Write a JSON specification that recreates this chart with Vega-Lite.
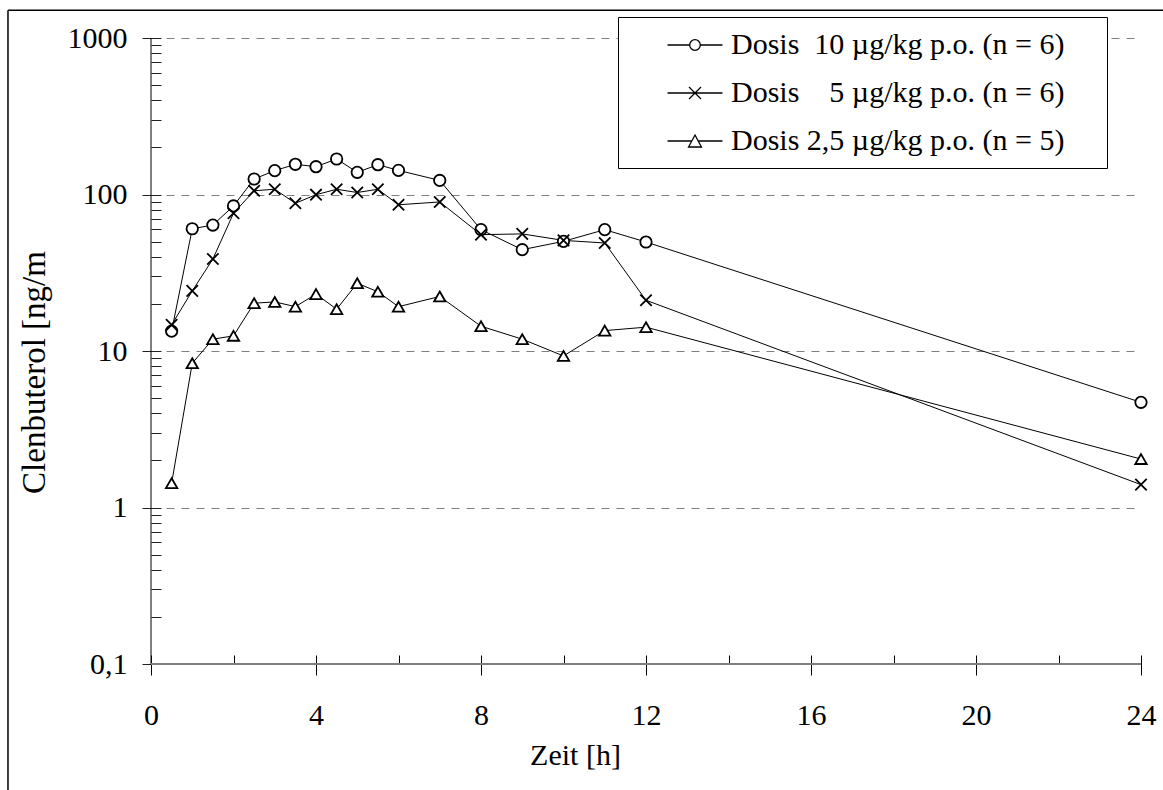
{
  "$schema": "https://vega.github.io/schema/vega-lite/v6.json",
  "width": 990,
  "height": 626,
  "autosize": {"type": "none"},
  "padding": {"left": 151, "top": 38, "right": 22, "bottom": 126},
  "background": "white",
  "config": {"view": {"stroke": null}, "font": "Liberation Serif"},
  "data": {
    "values": [
      {"t": 0.5, "c": 13.4, "s": "d10"},
      {"t": 1, "c": 60.4, "s": "d10"},
      {"t": 1.5, "c": 63.8, "s": "d10"},
      {"t": 2, "c": 84.5, "s": "d10"},
      {"t": 2.5, "c": 125.6, "s": "d10"},
      {"t": 3, "c": 142, "s": "d10"},
      {"t": 3.5, "c": 156, "s": "d10"},
      {"t": 4, "c": 150.5, "s": "d10"},
      {"t": 4.5, "c": 168.6, "s": "d10"},
      {"t": 5, "c": 138.6, "s": "d10"},
      {"t": 5.5, "c": 155, "s": "d10"},
      {"t": 6, "c": 142.6, "s": "d10"},
      {"t": 7, "c": 123, "s": "d10"},
      {"t": 8, "c": 59.6, "s": "d10"},
      {"t": 9, "c": 44.4, "s": "d10"},
      {"t": 10, "c": 50.2, "s": "d10"},
      {"t": 11, "c": 59.6, "s": "d10"},
      {"t": 12, "c": 49.7, "s": "d10"},
      {"t": 24, "c": 4.7, "s": "d10"},
      {"t": 0.5, "c": 14.7, "s": "d5"},
      {"t": 1, "c": 24.2, "s": "d5"},
      {"t": 1.5, "c": 38.7, "s": "d5"},
      {"t": 2, "c": 75.9, "s": "d5"},
      {"t": 2.5, "c": 105.7, "s": "d5"},
      {"t": 3, "c": 108, "s": "d5"},
      {"t": 3.5, "c": 87.9, "s": "d5"},
      {"t": 4, "c": 99.7, "s": "d5"},
      {"t": 4.5, "c": 108, "s": "d5"},
      {"t": 5, "c": 103, "s": "d5"},
      {"t": 5.5, "c": 108, "s": "d5"},
      {"t": 6, "c": 86, "s": "d5"},
      {"t": 7, "c": 89.6, "s": "d5"},
      {"t": 8, "c": 55.4, "s": "d5"},
      {"t": 9, "c": 56, "s": "d5"},
      {"t": 10, "c": 50.9, "s": "d5"},
      {"t": 11, "c": 49, "s": "d5"},
      {"t": 12, "c": 21.1, "s": "d5"},
      {"t": 24, "c": 1.4, "s": "d5"},
      {"t": 0.5, "c": 1.43, "s": "d2.5"},
      {"t": 1, "c": 8.35, "s": "d2.5"},
      {"t": 1.5, "c": 11.9, "s": "d2.5"},
      {"t": 2, "c": 12.5, "s": "d2.5"},
      {"t": 2.5, "c": 20.2, "s": "d2.5"},
      {"t": 3, "c": 20.6, "s": "d2.5"},
      {"t": 3.5, "c": 19.2, "s": "d2.5"},
      {"t": 4, "c": 23.1, "s": "d2.5"},
      {"t": 4.5, "c": 18.5, "s": "d2.5"},
      {"t": 5, "c": 27.1, "s": "d2.5"},
      {"t": 5.5, "c": 23.9, "s": "d2.5"},
      {"t": 6, "c": 19.2, "s": "d2.5"},
      {"t": 7, "c": 22.3, "s": "d2.5"},
      {"t": 8, "c": 14.4, "s": "d2.5"},
      {"t": 9, "c": 11.9, "s": "d2.5"},
      {"t": 10, "c": 9.3, "s": "d2.5"},
      {"t": 11, "c": 13.5, "s": "d2.5"},
      {"t": 12, "c": 14.2, "s": "d2.5"},
      {"t": 24, "c": 2.04, "s": "d2.5"}
    ]
  },
  "layer": [
    {
      "mark": {"type": "line", "color": "black", "strokeWidth": 1},
      "encoding": {
        "x": {
          "field": "t", "type": "quantitative",
          "scale": {"domain": [0, 24], "nice": false, "zero": false},
          "axis": {
            "orient": "bottom", "offset": -9,
            "values": [0, 2, 4, 6, 8, 10, 12, 14, 16, 18, 20, 22, 24],
            "domain": false, "grid": false,
            "tickSize": {"condition": {"test": "datum.value % 4 == 0", "value": 20}, "value": 9},
            "tickColor": "black", "tickWidth": 1,
            "labelExpr": "datum.value % 4 == 0 ? datum.label : ''",
            "labelFont": "Liberation Serif", "labelFontSize": 30, "labelColor": "black",
            "labelBaseline": "alphabetic", "labelPadding": 49,
            "labelFlush": false, "labelOverlap": false, "labelBound": false,
            "title": "Zeit [h]", "titleFont": "Liberation Serif", "titleFontSize": 30,
            "titleFontWeight": "normal", "titleColor": "black",
            "titleX": 424, "titleY": 109, "titleBaseline": "alphabetic", "titleAlign": "center"
          }
        },
        "y": {
          "field": "c", "type": "quantitative",
          "scale": {"type": "log", "domain": [0.1, 1000], "nice": false},
          "axis": {
            "orient": "left", "offset": -10,
            "values": [0.1, 0.2, 0.3, 0.4, 0.5, 0.6, 0.7, 0.8, 0.9, 1, 2, 3, 4, 5, 6, 7, 8, 9, 10, 20, 30, 40, 50, 60, 70, 80, 90, 100, 200, 300, 400, 500, 600, 700, 800, 900, 1000],
            "domain": false,
            "tickSize": {"condition": {"test": "abs(log(datum.value)/LN10 - round(log(datum.value)/LN10)) < 0.001", "value": 19}, "value": 10},
            "tickColor": "#222222", "tickWidth": 1,
            "labelExpr": "abs(log(datum.value)/LN10 - round(log(datum.value)/LN10)) < 0.001 ? (datum.value < 0.5 ? '0,1' : format(datum.value, 'd')) : ''",
            "labelFont": "Liberation Serif", "labelFontSize": 30, "labelColor": "black",
            "labelBaseline": "middle", "labelPadding": 15,
            "labelFlush": false, "labelOverlap": false, "labelBound": false,
            "grid": true, "gridColor": "#808080", "gridDash": [8, 7], "gridWidth": 1,
            "gridOpacity": {"condition": {"test": "abs(log(datum.value)/LN10 - round(log(datum.value)/LN10)) < 0.001 && datum.value > 0.5", "value": 1}, "value": 0},
            "title": "Clenbuterol [ng/m", "titleFont": "Liberation Serif", "titleFontSize": 33,
            "titleFontWeight": "normal", "titleColor": "black",
            "titleX": -117, "titleY": 334, "titleAngle": -90, "titleBaseline": "alphabetic", "titleAlign": "center"
          }
        },
        "detail": {"field": "s"}
      }
    },
    {
      "data": {"values": [{}]},
      "mark": {"type": "rule", "color": "black", "strokeWidth": 1.5},
      "encoding": {
        "x": {"datum": -3.467, "type": "quantitative", "scale": {"domain": [0, 24], "nice": false, "zero": false}},
        "y": {"datum": 0.001, "type": "quantitative", "scale": {"type": "log", "domain": [0.1, 1000], "nice": false}},
        "y2": {"datum": 1503}
      }
    },
    {
      "data": {"values": [{}]},
      "mark": {"type": "rule", "color": "black", "strokeWidth": 1.5},
      "encoding": {
        "x": {"datum": -3.467, "type": "quantitative", "scale": {"domain": [0, 24], "nice": false, "zero": false}},
        "x2": {"datum": 40},
        "y": {"datum": 1503, "type": "quantitative", "scale": {"type": "log", "domain": [0.1, 1000], "nice": false}}
      }
    },
    {
      "data": {"values": [{}]},
      "mark": {"type": "rule", "color": "black", "strokeWidth": 1},
      "encoding": {
        "x": {"datum": 0, "type": "quantitative", "scale": {"domain": [0, 24], "nice": false, "zero": false}},
        "y": {"datum": 0.1, "type": "quantitative", "scale": {"type": "log", "domain": [0.1, 1000], "nice": false}},
        "y2": {"datum": 1000}
      }
    },
    {
      "data": {"values": [{}]},
      "mark": {"type": "rule", "color": "#808080", "strokeWidth": 2},
      "encoding": {
        "x": {"datum": 0, "type": "quantitative", "scale": {"domain": [0, 24], "nice": false, "zero": false}},
        "x2": {"datum": 24},
        "y": {"datum": 0.1, "type": "quantitative", "scale": {"type": "log", "domain": [0.1, 1000], "nice": false}}
      }
    },
    {
      "layer": [
        {
          "mark": {"type": "point", "filled": true, "fill": "white", "stroke": "black", "strokeWidth": 1.8, "size": 130, "opacity": 1},
          "encoding": {
            "x": {"field": "t", "type": "quantitative", "scale": {"domain": [0, 24], "nice": false, "zero": false}},
            "y": {"field": "c", "type": "quantitative", "scale": {"type": "log", "domain": [0.1, 1000], "nice": false}},
            "shape": {
              "field": "s", "type": "nominal",
              "scale": {"domain": ["d10", "d5", "d2.5"], "range": ["circle", "M-1,-1L1,1M-1,1L1,-1", "M0,-0.866L1,0.866L-1,0.866Z"]},
              "legend": null
            }
          }
        },
        {
          "transform": [{"filter": "datum.t > 100"}],
          "mark": {"type": "point", "filled": false, "stroke": "black", "strokeWidth": 1.3, "size": 900, "opacity": 1},
          "encoding": {
            "x": {"field": "t", "type": "quantitative", "scale": {"domain": [0, 24], "nice": false, "zero": false}},
            "y": {"field": "c", "type": "quantitative", "scale": {"type": "log", "domain": [0.1, 1000], "nice": false}},
            "shape": {
              "field": "s", "type": "nominal",
              "scale": {"domain": ["d10", "d5", "d2.5"], "range": [
                "M-1.833,0H-0.353M0.353,0H1.833M0.353,0A0.353,0.353,0,1,1,-0.353,0A0.353,0.353,0,1,1,0.353,0Z",
                "M-1.833,0H1.833M-0.4,-0.4L0.4,0.4M-0.4,0.4L0.4,-0.4",
                "M-1.833,0H-0.215M0.215,0H1.833M0,-0.4L0.43,0.4L-0.43,0.4Z"
              ]},
              "legend": {
                "orient": "none", "legendX": 467, "legendY": -21, "title": null, "direction": "vertical",
                "labelExpr": "datum.value == 'd10' ? 'Dosis\u00a0\u00a010 µg/kg p.o. (n = 6)\u00a0\u00a0\u00a0\u00a0\u200b' : datum.value == 'd5' ? 'Dosis\u00a0\u00a0\u00a0\u00a05 µg/kg p.o. (n = 6)\u00a0\u00a0\u00a0\u00a0\u200b' : 'Dosis 2,5 µg/kg p.o. (n = 5)\u00a0\u00a0\u00a0\u00a0\u200b'",
                "labelFont": "Liberation Serif", "labelFontSize": 30, "labelColor": "black", "labelLimit": 600,
                "symbolSize": 900, "symbolStrokeColor": "black", "symbolFillColor": "transparent",
                "symbolStrokeWidth": 1.3, "symbolOpacity": 1,
                "symbolOffset": 49, "labelOffset": 20,
                "rowPadding": 17, "padding": 12,
                "strokeColor": "black", "fillColor": "white", "cornerRadius": 0
              }
            }
          }
        }
      ],
      "resolve": {"scale": {"shape": "independent"}}
    }
  ]
}
